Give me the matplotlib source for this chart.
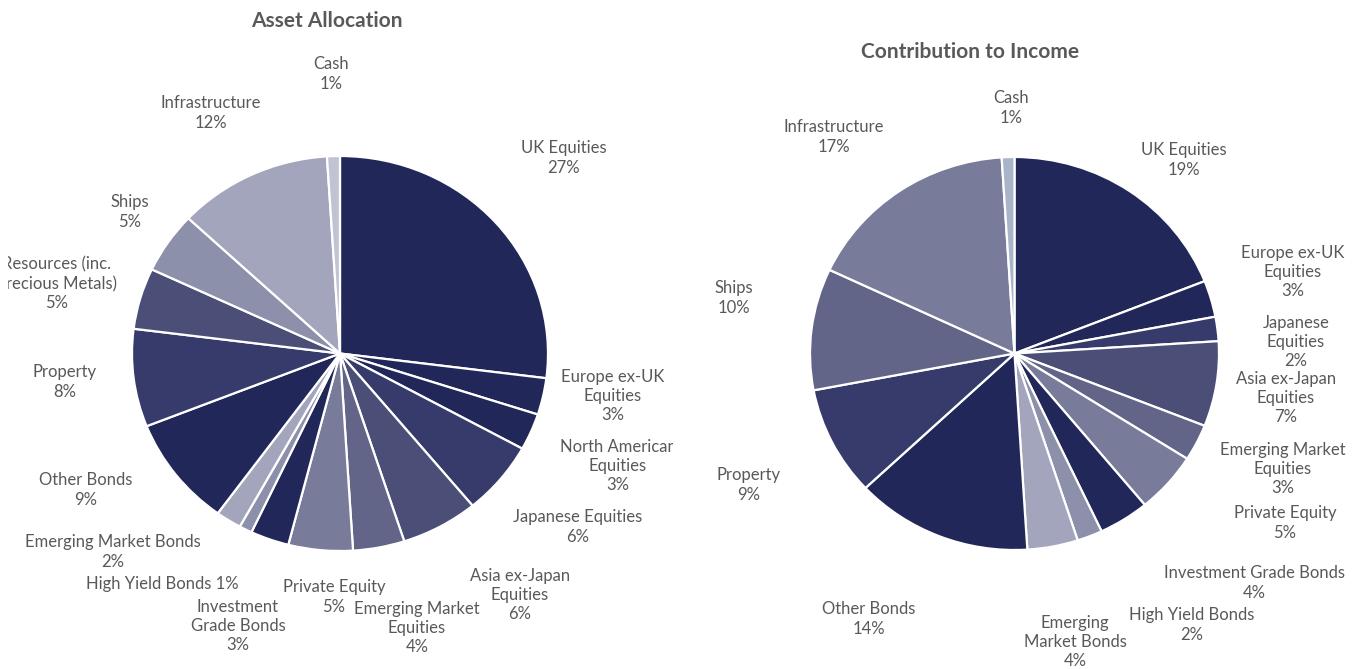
import matplotlib
matplotlib.use("Agg")
import matplotlib.pyplot as plt

# ---------------- data ----------------
alloc_names = ["UK Equities", "Europe ex-UK Equities", "North American Equities",
               "Japanese Equities", "Asia ex-Japan Equities", "Emerging Market Equities",
               "Private Equity", "Investment Grade Bonds", "High Yield Bonds",
               "Emerging Market Bonds", "Other Bonds", "Property",
               "Resources (inc. Precious Metals)", "Ships", "Infrastructure", "Cash"]
alloc_values = [27, 3, 3, 6, 6, 4, 5, 3, 1, 2, 9, 8, 5, 5, 12, 1]

income_names = ["UK Equities", "Europe ex-UK Equities", "Japanese Equities",
                "Asia ex-Japan Equities", "Emerging Market Equities", "Private Equity",
                "Investment Grade Bonds", "High Yield Bonds", "Emerging Market Bonds",
                "Other Bonds", "Property", "Ships", "Infrastructure", "Cash"]
income_values = [19, 3, 2, 7, 3, 5, 4, 2, 4, 14, 9, 10, 17, 1]

# ---------------- styling ----------------
D0, D1, D2, D3, D4, D5, D6 = "#222759", "#363b6b", "#4b4f78", "#626587", "#797b9b", "#8d90aa", "#a3a5bc"
alloc_colors = [D0, D0, D0, D1, D2, D3, D4, D0, D5, D6, D0, D1, D2, D5, D6, "#c0c3d4"]
income_colors = [D0, D0, D1, D2, D3, D4, D0, D5, D6, D0, D1, D3, D4, "#a9b4c8"]

# label text layout (line breaks) and positions in pixels (x, y from top)
alloc_disp = ["UK Equities\n", "Europe ex-UK\nEquities\n", "North American\nEquities\n",
              "Japanese Equities\n", "Asia ex-Japan\nEquities\n", "Emerging Market\nEquities\n",
              "Private Equity\n", "Investment\nGrade Bonds\n", "High Yield Bonds ",
              "Emerging Market Bonds\n", "Other Bonds\n", "Property\n",
              "Resources (inc.\nPrecious Metals)\n", "Ships\n", "Infrastructure\n", "Cash\n"]
alloc_pos = [(564, 158), (613, 396), (618, 466), (578, 527), (520, 595), (417, 628),
             (334, 597), (238, 626), (162, 584), (113, 552), (86, 490), (65, 382),
             (57, 284), (130, 212), (211, 113), (331, 74)]

income_disp = ["UK Equities\n", "Europe ex-UK\nEquities\n", "Japanese\nEquities\n",
               "Asia ex-Japan\nEquities\n", "Emerging Market\nEquities\n", "Private Equity\n",
               "Investment Grade Bonds\n", "High Yield Bonds\n", "Emerging\nMarket Bonds\n",
               "Other Bonds\n", "Property\n", "Ships\n", "Infrastructure\n", "Cash\n"]
income_pos = [(1184, 160), (1293, 272), (1296, 342), (1286, 398), (1283, 469), (1285, 523),
              (1254, 583), (1192, 625), (1075, 642), (869, 619), (749, 485), (734, 298),
              (834, 137), (1011, 108)]

W, H = 1365, 669
TXT = "#595959"
FONT = ["Lato", "DejaVu Sans"]
plt.rcParams["font.family"] = FONT

fig = plt.figure(figsize=(W / 100, H / 100), dpi=100)
fig.patch.set_facecolor("white")


def px_axes(x0, y0, x1, y1):
    return fig.add_axes([x0 / W, 1 - y1 / H, (x1 - x0) / W, (y1 - y0) / H])


def draw_pie(cx, cy, rx, ry, values, colors):
    ax = px_axes(cx - rx, cy - ry, cx + rx, cy + ry)
    ax.pie(values, colors=colors, startangle=90, counterclock=False,
           wedgeprops=dict(edgecolor="white", linewidth=1.6))
    ax.set_aspect("auto")
    ax.set_xlim(-1, 1)
    ax.set_ylim(-1, 1)
    ax.axis("off")


def draw_panel(x0, x1, title, tpos, disp, values, pos):
    pa = px_axes(x0, 0, x1, H)
    pa.set_xlim(x0, x1)
    pa.set_ylim(H, 0)
    pa.axis("off")
    pa.text(tpos[0], tpos[1], title, ha="center", va="center", fontsize=15,
            fontweight="bold", color=TXT)
    for d, v, (x, y) in zip(disp, values, pos):
        pa.text(x, y, f"{d}{v}%", ha="center", va="center", fontsize=12,
                color=TXT, linespacing=1.25, multialignment="center", clip_on=True)
    return pa


draw_pie(340, 353.5, 208, 197.5, alloc_values, alloc_colors)
draw_pie(1014.5, 353.5, 204.5, 196.5, income_values, income_colors)

draw_panel(8, 673, "Asset Allocation", (327, 21), alloc_disp, alloc_values, alloc_pos)
draw_panel(680, 1365, "Contribution to Income", (970, 52), income_disp, income_values, income_pos)

fig.savefig("out.png", dpi=100, facecolor="white")
